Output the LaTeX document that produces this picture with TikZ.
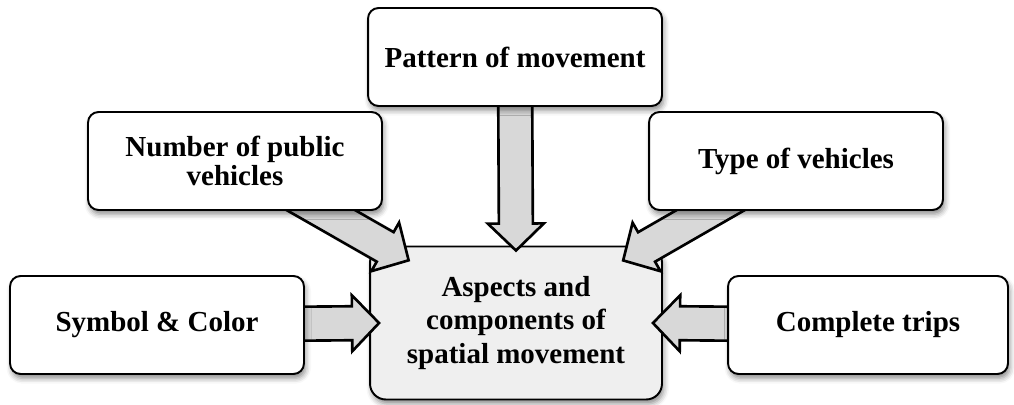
\documentclass[tikz,border=0pt]{standalone}
\usepackage{fontspec}
\setmainfont{Liberation Serif}
\usetikzlibrary{calc,shadows.blur}
\pgfdeclarelayer{back}
\pgfsetlayers{back,main}
\definecolor{corefill}{HTML}{EFEFEF}
\definecolor{arrowfill}{HTML}{D8D8D8}
\tikzset{
	item/.style={draw=black,line width=1.1pt,rounded corners=6pt,fill=white,
		minimum width=5.88cm,minimum height=1.96cm,align=center,
		font=\fontsize{16.5}{17}\selectfont\bfseries,
		blur shadow={shadow xshift=1pt,shadow yshift=-2.5pt,shadow blur radius=3pt,shadow opacity=45}},
	core/.style={item,fill=corefill,rounded corners=9pt,minimum width=5.84cm,minimum height=3.06cm,
		font=\fontsize{16.5}{18.8}\selectfont\bfseries},
	fatarrow/.style={draw=black,line width=1.5pt,fill=arrowfill,line join=miter}
}
% block arrow from the centre of #1 to the point #2
\newcommand{\blockarrow}[2]{%
	\draw[fatarrow] let \p1=($(#2)-(#1)$),\n1={atan2(\y1,\x1)},\n2={veclen(\x1,\y1)} in
		[shift={(#1)},rotate=\n1] (0pt,-0.34cm)--({\n2*1pt-0.54cm},-0.34cm)--({\n2*1pt-0.54cm},-0.56cm)
		--({\n2*1pt},0pt)--({\n2*1pt-0.54cm},0.56cm)--({\n2*1pt-0.54cm},0.34cm)--(0pt,0.34cm)--cycle;}
\begin{document}
\begin{tikzpicture}[x=0.02cm,y=-0.02cm]
	\useasboundingbox (0,0) rectangle (1014,405);
	\node[item] (pat) at (515,57) {Pattern of movement};
	\node[item] (num) at (235,161) {Number of public\\vehicles};
	\node[item] (typ) at (796,161) {Type of vehicles};
	\node[item] (sym) at (157,325) {Symbol \& Color};
	\node[item,minimum width=5.6cm] (trip) at (868,325) {Complete trips};
	\begin{pgfonlayer}{back}
		\node[core] (core) at (516,323) {Aspects and\\components of\\spatial movement};
		\coordinate (tipN) at ([yshift=-0.1cm]core.north);
		\coordinate (tipW) at ([xshift=0.2cm]core.west);
		\coordinate (tipE) at ([xshift=-0.2cm]core.east);
		\coordinate (tipNW) at ([shift={(0.8cm,-0.3cm)}]core.north west);
		\coordinate (tipNE) at ([shift={(-0.8cm,-0.3cm)}]core.north east);
		\blockarrow{pat}{tipN}
		\blockarrow{num}{tipNW}
		\blockarrow{typ}{tipNE}
		\blockarrow{sym}{tipW}
		\blockarrow{trip}{tipE}
	\end{pgfonlayer}
\end{tikzpicture}
\end{document}
